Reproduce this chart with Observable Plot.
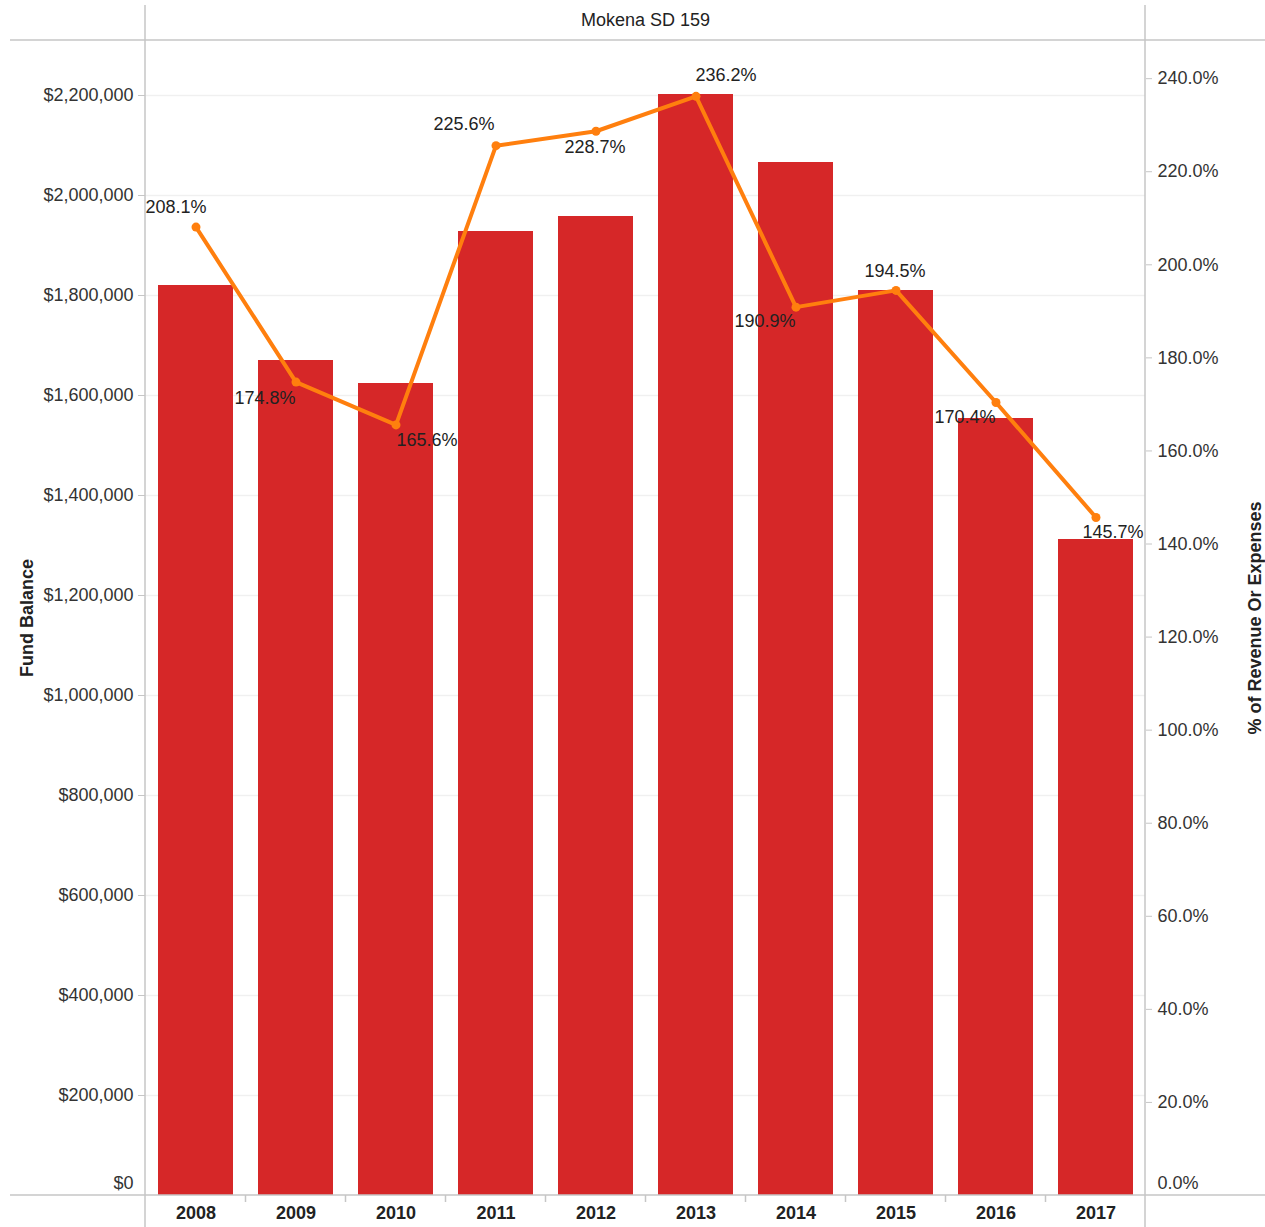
<!DOCTYPE html>
<html>
<head>
<meta charset="utf-8">
<script src="https://cdn.jsdelivr.net/npm/d3@7"></script>
<script src="https://cdn.jsdelivr.net/npm/@observablehq/plot@0.6"></script>
<style>
  html, body { margin: 0; padding: 0; background: #fff; }
  svg { display: block; }
</style>
</head>
<body>
<div id="chart"></div>
<script>
// ---- data ----
const title = "Mokena SD 159";
const years = ["2008","2009","2010","2011","2012","2013","2014","2015","2016","2017"];
const fundBalance = [1820000, 1670000, 1624000, 1928000, 1958000, 2202000, 2066000, 1810000, 1554000, 1312000];
const pctOfRevenue = [208.1, 174.8, 165.6, 225.6, 228.7, 236.2, 190.9, 194.5, 170.4, 145.7];
const leftTicks = [0, 200000, 400000, 600000, 800000, 1000000, 1200000, 1400000, 1600000, 1800000, 2000000, 2200000];
const rightTicks = [0, 20, 40, 60, 80, 100, 120, 140, 160, 180, 200, 220, 240];
const leftTitle = "Fund Balance";
const rightTitle = "% of Revenue Or Expenses";

// ---- layout (label placement, not data) ----
const labelOffsets = [[-20,-20],[-31,16],[31,15],[-32,-21],[-1,16],[30,-21],[-31,14],[-1,-19],[-31,15],[17,15]];

const table = years.map((y, i) => ({year: y, balance: fundBalance[i], pct: pctOfRevenue[i]}));

const yMax = 2310000;
const pctMax = 248.2;
const k = yMax / pctMax;

const fmtMoney = d3.format("$,");
const fmtPct = v => (v / k).toFixed(1) + "%";

const red = "#d62728";
const orange = "#ff7f0e";
const lineGray = "#c6c6c6";
const textCol = "#333";

const labelMarks = table.map((d, i) => Plot.text([d], {
  x: "year", y: r => r.pct * k, text: r => r.pct.toFixed(1) + "%",
  dx: labelOffsets[i][0], dy: labelOffsets[i][1], fill: "#222"
}));

const chart = Plot.plot({
  width: 1265,
  height: 1227,
  marginLeft: 145,
  marginRight: 120,
  marginTop: 40,
  marginBottom: 32,
  style: {fontFamily: "'Liberation Sans', Arial, sans-serif", fontSize: "18px", color: textCol, background: "#fff"},
  x: {domain: years, paddingInner: 0.25, paddingOuter: 0.125, label: null},
  y: {domain: [0, yMax], label: null},
  marks: [
    Plot.gridY(leftTicks.filter(v => v > 0), {stroke: "#000", strokeOpacity: 0.06, strokeWidth: 1.5}),
    Plot.barY(table, {x: "year", y: "balance", fill: red}),
    Plot.line(table, {x: "year", y: d => d.pct * k, stroke: orange, strokeWidth: 4}),
    Plot.dot(table, {x: "year", y: d => d.pct * k, r: 4.5, fill: orange}),
    ...labelMarks,
    Plot.axisY(leftTicks.filter(v => v > 0), {anchor: "left", tickFormat: fmtMoney, tickSize: 7, tickPadding: 5, stroke: lineGray, fill: textCol, label: null}),
    Plot.axisY([0], {anchor: "left", tickFormat: fmtMoney, tickSize: 0, tickPadding: 12, dy: -12, fill: textCol, label: null}),
    Plot.axisY(rightTicks.filter(v => v > 0).map(p => p * k), {anchor: "right", tickFormat: fmtPct, tickSize: 6, tickPadding: 6, stroke: lineGray, fill: textCol, label: null}),
    Plot.axisY([0], {anchor: "right", tickFormat: fmtPct, tickSize: 0, tickPadding: 12, dy: -12, fill: textCol, label: null}),
    Plot.axisX({tickSize: 0, tickPadding: 11, fontWeight: "bold", fill: "#222", label: null}),
    Plot.text([leftTitle], {frameAnchor: "left", textAnchor: "middle", rotate: -90, dx: -118, fontWeight: "bold", fill: "#222"}),
    Plot.text([rightTitle], {frameAnchor: "right", textAnchor: "middle", rotate: -90, dx: 110, fontWeight: "bold", fill: "#222"}),
    Plot.text([title], {frameAnchor: "top", lineAnchor: "middle", dy: -20, fill: "#222"})
  ]
});

// decorative frame lines (Tableau-style pane borders)
const svgSel = d3.select(chart);
const xs = chart.scale("x");
const ys = chart.scale("y");
const yZero = ys.apply(0);
const W = 1265, H = 1227;
const paneLeft = 145, paneRight = W - 120, paneTop = 40;
const g = svgSel.append("g").attr("stroke", lineGray).attr("stroke-width", 1.5);
g.append("line").attr("x1", 10).attr("x2", W).attr("y1", paneTop).attr("y2", paneTop);
g.append("line").attr("x1", 10).attr("x2", W).attr("y1", yZero).attr("y2", yZero);
g.append("line").attr("x1", paneLeft).attr("x2", paneLeft).attr("y1", 5).attr("y2", H);
g.append("line").attr("x1", paneRight).attr("x2", paneRight).attr("y1", 5).attr("y2", H);
const bw = xs.bandwidth, step = xs.step;
years.slice(0, -1).forEach(yr => {
  const bx = xs.apply(yr) + bw + (step - bw) / 2;
  g.append("line").attr("x1", bx).attr("x2", bx).attr("y1", yZero).attr("y2", yZero + 7);
});

document.getElementById("chart").appendChild(chart);
</script>
</body>
</html>
